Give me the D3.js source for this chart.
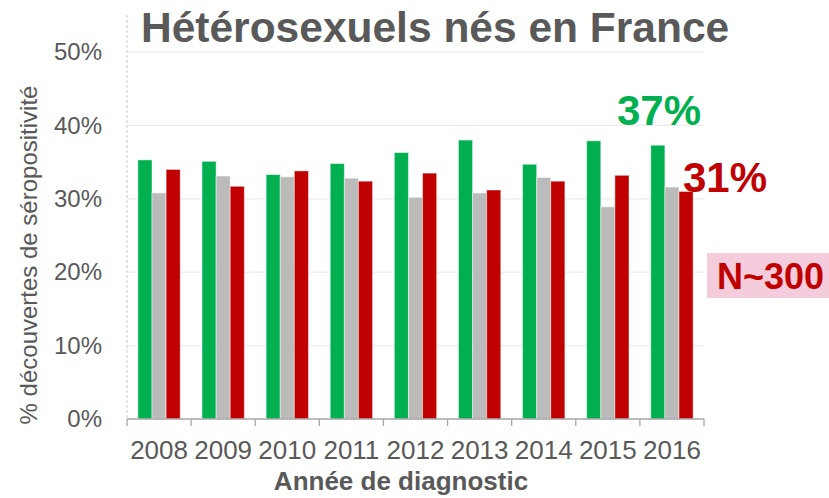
<!DOCTYPE html>
<html>
<head>
<meta charset="utf-8">
<script src="https://cdn.jsdelivr.net/npm/d3@7"></script>
<style>
  body { margin: 0; background: #fff; }
  svg { display: block; font-family: 'Liberation Sans', Arial, sans-serif; }
</style>
</head>
<body>
<svg id="chart" width="829" height="498"></svg>
<script>
// Data (share of diagnoses, %)
const years = ['2008', '2009', '2010', '2011', '2012', '2013', '2014', '2015', '2016'];
const greenValues = [35.3, 35.1, 33.3, 34.8, 36.3, 38.0, 34.7, 37.9, 37.3];
const grayValues = [30.8, 33.1, 33.0, 32.8, 30.2, 30.8, 32.9, 28.9, 31.6];
const redValues = [34.0, 31.7, 33.8, 32.4, 33.5, 31.2, 32.4, 33.2, 31.0];
const yTicks = [0, 10, 20, 30, 40, 50];

const seriesColors = ['#00B050', '#BBBBBB', '#C00000'];
const series = [greenValues, grayValues, redValues];

const textGray = '#595959';

const svg = d3.select('#chart');

// Scales
const x = d3.scaleBand()
  .domain(years)
  .range([127, 704])
  .paddingInner(0.34)
  .paddingOuter(0.17);

const xSub = d3.scaleBand()
  .domain([0, 1, 2])
  .range([0, x.bandwidth()]);

const y = d3.scaleLinear()
  .domain([0, 50])
  .range([419, 52]);

// Gridlines
svg.append('g')
  .selectAll('line')
  .data(yTicks.filter((d) => d > 0))
  .join('line')
  .attr('x1', x.range()[0])
  .attr('x2', x.range()[1])
  .attr('y1', (d) => y(d))
  .attr('y2', (d) => y(d))
  .attr('stroke', '#ececec')
  .attr('stroke-width', 1.2);

// Left axis line (light dotted)
svg.append('line')
  .attr('x1', 127).attr('x2', 127)
  .attr('y1', 15).attr('y2', y(0))
  .attr('stroke', '#cccccc')
  .attr('stroke-dasharray', '3,2');

// Y tick labels
const yAxis = svg.append('g')
  .attr('transform', 'translate(127,0)')
  .call(d3.axisLeft(y).tickValues(yTicks).tickSize(0).tickPadding(25)
    .tickFormat((d) => `${d}%`));
yAxis.select('.domain').remove();
yAxis.selectAll('text')
  .attr('font-size', 24)
  .attr('fill', textGray)
  .attr('font-family', "'Liberation Sans', Arial, sans-serif");

// Bars
const groups = svg.append('g')
  .selectAll('g')
  .data(years)
  .join('g')
  .attr('transform', (d) => `translate(${x(d)},0)`);

groups.selectAll('rect')
  .data((d, i) => series.map((s, k) => ({ k, v: s[i] })))
  .join('rect')
  .attr('x', (d) => xSub(d.k))
  .attr('width', xSub.bandwidth())
  .attr('y', (d) => y(d.v))
  .attr('height', (d) => y(0) - y(d.v))
  .attr('fill', (d) => seriesColors[d.k])
  .attr('stroke', '#ffffff')
  .attr('stroke-opacity', 0.45)
  .attr('stroke-width', 1);

// X axis line + ticks at category boundaries
const axisY = y(0);
svg.append('line')
  .attr('x1', x.range()[0]).attr('x2', x.range()[1])
  .attr('y1', axisY).attr('y2', axisY)
  .attr('stroke', '#a6a6a6')
  .attr('stroke-width', 1.3);

svg.append('g')
  .selectAll('line')
  .data(d3.range(years.length + 1))
  .join('line')
  .attr('x1', (i) => x.range()[0] + i * x.step())
  .attr('x2', (i) => x.range()[0] + i * x.step())
  .attr('y1', axisY)
  .attr('y2', axisY + 7)
  .attr('stroke', '#a6a6a6')
  .attr('stroke-width', 1.3);

// X labels
svg.append('g')
  .selectAll('text')
  .data(years)
  .join('text')
  .attr('x', (d) => x(d) + x.bandwidth() / 2)
  .attr('y', 459)
  .attr('text-anchor', 'middle')
  .attr('font-size', 26)
  .attr('fill', textGray)
  .text((d) => d);

// Axis titles
svg.append('text')
  .attr('x', 401)
  .attr('y', 490)
  .attr('text-anchor', 'middle')
  .attr('font-size', 26)
  .attr('font-weight', 'bold')
  .attr('fill', textGray)
  .text('Année de diagnostic');

svg.append('text')
  .attr('transform', 'translate(37,255) rotate(-90)')
  .attr('text-anchor', 'middle')
  .attr('font-size', 24)
  .attr('fill', textGray)
  .text('% découvertes de séropositivité');

// Title
svg.append('text')
  .attr('x', 141)
  .attr('y', 42)
  .attr('font-size', 42.5)
  .attr('font-weight', 'bold')
  .attr('fill', textGray)
  .text('Hétérosexuels nés en France');

// Annotations
svg.append('text')
  .attr('x', 617)
  .attr('y', 125)
  .attr('font-size', 42)
  .attr('font-weight', 'bold')
  .attr('fill', '#00B050')
  .text('37%');

svg.append('text')
  .attr('x', 683)
  .attr('y', 192)
  .attr('font-size', 42)
  .attr('font-weight', 'bold')
  .attr('fill', '#C00000')
  .text('31%');

svg.append('rect')
  .attr('x', 707)
  .attr('y', 253)
  .attr('width', 122)
  .attr('height', 45)
  .attr('fill', '#F5CCDC');

svg.append('text')
  .attr('x', 717)
  .attr('y', 289)
  .attr('font-size', 36)
  .attr('font-weight', 'bold')
  .attr('fill', '#C00000')
  .text('N~300');
</script>
</body>
</html>
